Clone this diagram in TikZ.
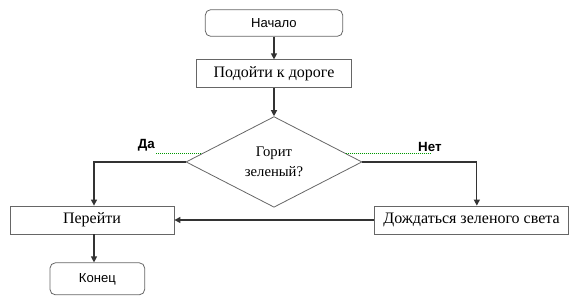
\documentclass[tikz,border=0pt]{standalone}
\usepackage{fontspec}
\setmainfont{Liberation Serif}
\setsansfont{Liberation Sans}
\usetikzlibrary{positioning,arrows.meta,shapes.geometric,calc}

\begin{document}
\begin{tikzpicture}[
  x=0.75pt, y=-0.75pt,
  term/.style={draw=black!60, semithick, rounded corners=4pt,
               minimum height=20pt,
               font=\sffamily\fontsize{9.8}{11}\selectfont},
  act/.style={draw=black!60, semithick, minimum height=21pt,
              font=\fontsize{12}{14}\selectfont},
  cond/.style={draw=black!60, semithick, diamond, aspect=2, inner sep=0pt,
               minimum width=132pt, minimum height=68pt, align=center,
               font=\fontsize{11}{15}\selectfont},
  lbl/.style={inner sep=1pt, font=\sffamily\bfseries\fontsize{10}{12}\selectfont},
  arr/.style={-{Triangle[length=4.5pt,width=4.5pt]}, line width=0.9pt, black!80},
  gline/.style={densely dotted, line width=0.5pt, green!60!black},
]
\useasboundingbox (0,0) rectangle (580,304);

%% Main column
\node[term, minimum width=103pt] (start) at (274,23) {Начало};
\node[act, minimum width=116pt, below=17pt of start] (road) {Подойти к дороге};
\node[cond, below=21pt of road] (green) {Горит\\зеленый?};

\draw[arr](start)--(road);
\draw[arr](road)--(green);

%% Branches
\node[act, minimum width=123pt] (go) at (92,220) {Перейти};
\node[act, minimum width=146pt] (wait) at (471.5,220) {Дождаться зеленого света};
\node[term, minimum width=71pt, minimum height=24pt,
      below=21pt of go, xshift=4pt] (stop) {Конец};

\draw[arr](green.west) -| ([xshift=1.5pt]go.north);
\draw[arr](green.east) -| ([xshift=4pt]wait.north);
\draw[arr](wait.west) -- (go.east);
\draw[arr]([xshift=1.5pt]go.south) -- ([xshift=1.5pt]go.south |- stop.north);

%% Labels
\coordinate (yesend) at ($(green.west)!0.19!(green.north)$);
\coordinate (noend) at ($(green.east)!0.19!(green.north)$);
\node[lbl, anchor=south east] (yes) at ($(yesend)+(-46,0)$) {Да};
\node[lbl, anchor=south west] (no) at ($(noend)+(71,0)$) {Нет};
\draw[gline](yes.south east) -- (yesend);
\draw[gline](noend) -- (no.south);

\end{tikzpicture}
\end{document}
